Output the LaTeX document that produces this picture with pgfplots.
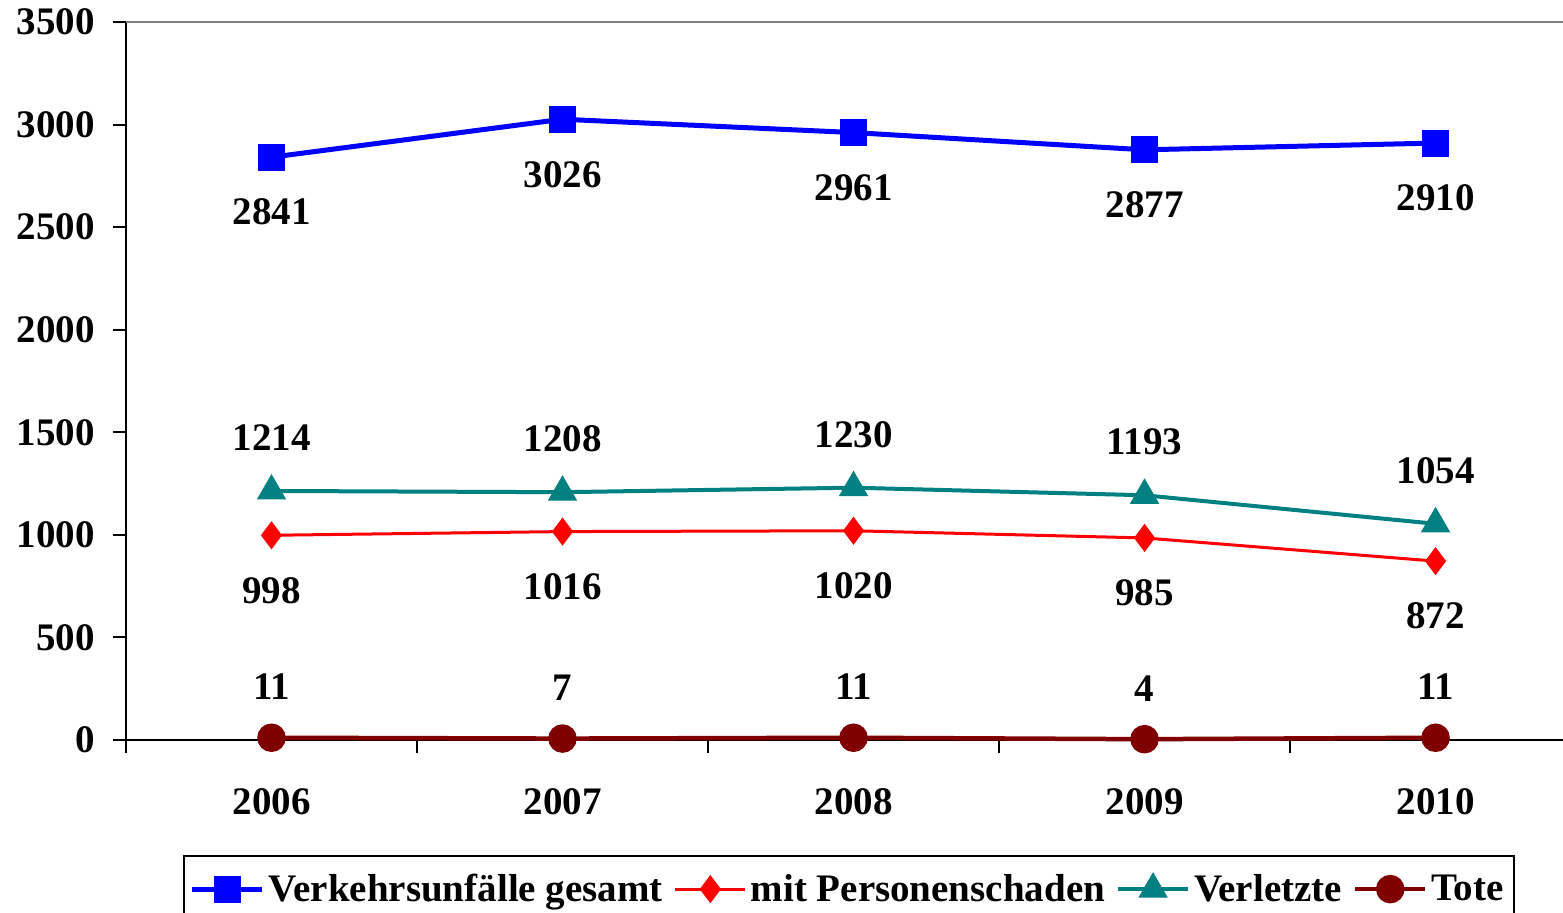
\documentclass[border=0pt]{standalone}
\usepackage{pgfplots}
\pgfplotsset{compat=1.18}
\usepackage{fontspec}
\setmainfont{Liberation Serif}
\definecolor{cblue}{RGB}{0,0,255}
\definecolor{cred}{RGB}{255,0,0}
\definecolor{cteal}{RGB}{0,128,128}
\definecolor{cdark}{RGB}{128,0,0}
\newcommand\F{\bfseries\fontsize{19.5}{23}\selectfont}
\begin{document}
\begin{tikzpicture}
\begin{axis}[
  at={(0,0)}, anchor=south west,
  scale only axis, width=718.5pt, height=359pt,
  xmin=-0.5, xmax=4.438, ymin=0, ymax=3500,
  axis lines=left, axis line style={-, black, line width=1pt},
  ytick={0,500,...,3500},
  xtick={-0.5,0.5,1.5,2.5,3.5}, xticklabels={},
  extra x ticks={0,1,2,3,4},
  extra x tick labels={2006,2007,2008,2009,2010},
  extra x tick style={major tick length=0pt},
  tick align=outside, major tick length=6.5pt,
  tick style={black, line width=1pt},
  tick label style={font=\F},
  /pgf/number format/assume math mode=true,
  /pgf/number format/1000 sep={},
  yticklabel style={xshift=-5.5pt},
  xticklabel style={yshift=-20.5pt},
  clip=false,
  legend columns=4,
  legend image code/.code={\draw[mark repeat=2,mark phase=2] plot coordinates {(0pt,0pt) (17.5pt,0pt) (35pt,0pt)};},
  legend style={at={(0.503,-0.160)}, anchor=north, draw=black, line width=1pt, font=\F,
    inner ysep=7pt, inner xsep=3pt,
    /tikz/every even column/.append style={column sep=3.5pt}},
]
\addplot[cblue, line width=2.5pt, mark=square*, mark size=5.5pt, mark options={solid},
  nodes near coords, nodes near coords style={anchor=center, yshift=-27.5pt, font=\F, text=black}]
  coordinates {(0,2841) (1,3026) (2,2961) (3,2877) (4,2910)};
\addlegendentry{Verkehrsunfälle gesamt}
\addplot[cred, line width=1.5pt, mark=diamond*, mark size=5.8pt, mark options={solid},
  nodes near coords, nodes near coords style={anchor=center, yshift=-27.5pt, font=\F, text=black}]
  coordinates {(0,998) (1,1016) (2,1020) (3,985) (4,872)};
\addlegendentry{mit Personenschaden}
\addplot[cteal, line width=2pt, mark=triangle*, mark size=6.5pt, mark options={solid},
  nodes near coords, nodes near coords style={anchor=center, yshift=26.5pt, font=\F, text=black}]
  coordinates {(0,1214) (1,1208) (2,1230) (3,1193) (4,1054)};
\addlegendentry{Verletzte}
\addplot[cdark, line width=2.25pt, mark=*, mark size=6pt, mark options={solid},
  nodes near coords, nodes near coords style={anchor=center, yshift=25.5pt, font=\F, text=black}]
  coordinates {(0,11) (1,7) (2,11) (3,4) (4,11)};
\addlegendentry{Tote}
\draw[gray, line width=1pt] (rel axis cs:0,1) -- (rel axis cs:1,1);
\end{axis}
\pgfresetboundingbox
\useasboundingbox (-63pt,-86pt) rectangle (718.5pt,370pt);
\end{tikzpicture}
\end{document}
